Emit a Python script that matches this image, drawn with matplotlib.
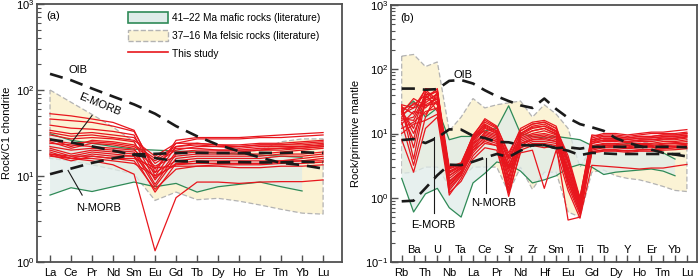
import matplotlib
matplotlib.use('Agg')
import matplotlib.pyplot as plt
from matplotlib.patches import Patch
from matplotlib.lines import Line2D
from matplotlib.ticker import LogLocator, NullFormatter
import matplotlib.transforms as mtransforms

plt.rcParams['font.family'] = ['Liberation Sans', 'DejaVu Sans']
plt.rcParams['mathtext.fontset'] = 'custom'
plt.rcParams['mathtext.rm'] = 'Liberation Sans'

# ---------------- Panel (a): chondrite-normalised REE ----------------
ree = ['La', 'Ce', 'Pr', 'Nd', 'Sm', 'Eu', 'Gd', 'Tb', 'Dy', 'Ho', 'Er', 'Tm', 'Yb', 'Lu']
oib_a = [154, 130, 104, 84, 68, 53, 38, 29, 23, 19.4, 16.4, 14.2, 13.4, 12.2]
emorb_a = [26.6, 24.5, 22.1, 19.7, 17.6, 16.2, 14.9, 14.7, 14.4, 14.5, 14.4, 14.4, 14.7, 14.4]
nmorb_a = [10.5, 12.2, 14.2, 16.0, 17.8, 18.1, 18.5, 18.6, 18.5, 18.5, 18.6, 18.5, 18.9, 18.5]
felsic_a_up = [100, 72, 52, 37, 25, 11, 17, 18, 18, 19, 20, 25, 27, 27]
felsic_a_lo = [16, 15, 13.5, 12, 10.5, 5.2, 6.5, 5.3, 5.5, 5.1, 4.6, 4.1, 3.7, 3.6]
mafic_a_up = [31, 26, 24, 22, 20.5, 20, 19.5, 19, 18.5, 18, 17.5, 17, 16.5]
mafic_a_lo = [6.0, 7.3, 6.6, 7.5, 8.5, 7.5, 8.2, 6.5, 7.5, 8.0, 8.5, 7.5, 6.7]
samples_a = [
    [53, 50, 46, 42, 34, 11, 26, 28, 28, 28, 29, 30, 31, 32],
    [46, 44, 42, 38, 33, 12, 24, 27, 27, 27, 28, 28, 29, 30],
    [39, 36, 35, 33, 30, 10, 22, 24, 23, 23, 24, 24, 25, 26],
    [34, 31, 32, 30, 28, 14, 20, 22, 22, 22, 23, 23, 24, 25],
    [30, 27, 28, 27, 25, 9, 19, 20, 20, 20, 21, 21, 22, 23],
    [27, 22, 26, 25, 23, 16, 22, 23, 22, 21, 22, 22, 22, 23],
    [25, 21, 24, 23, 21, 8, 18, 19, 19, 19, 20, 20, 21, 22],
    [24, 23, 22, 21, 20, 13, 17, 18, 18, 18, 18, 19, 20, 21],
    [22, 20, 21, 20, 19, 7.5, 16, 17, 17, 17, 17, 18, 18, 19],
    [21, 18, 20, 19, 18, 11, 15, 16, 16, 16, 16, 17, 17, 18],
    [20, 17, 19, 18, 17, 6.5, 14, 15, 15, 15, 15, 15, 16, 17],
    [19, 16, 18, 17, 17, 9.5, 14, 14, 14, 14, 14, 15, 15, 16],
    [18, 17, 17, 16, 16, 12.5, 13, 13, 13.5, 13.5, 13.5, 14, 14, 14.5],
    [17.5, 15, 17, 16, 15, 7, 12, 13, 13, 12.5, 12.5, 13, 13, 13.5],
    [17, 16, 16, 15, 14, 10, 13.5, 14, 14, 14, 14, 14.5, 15, 15],
    [18, 16, 15, 13.5, 10.5, 1.35, 5.6, 8.5, 8.5, 8.2, 8.5, 8.6, 8.6, 9.0],
    [26, 24, 25, 24, 22, 15, 21, 21, 20, 20, 20, 21, 21, 22],
    [32, 29, 30, 28, 26, 17, 24, 24, 23, 22, 23, 23, 23, 24],
]

# ---------------- Panel (b): primitive-mantle-normalised spider ----------------
spider = ['Rb', 'Ba', 'Th', 'U', 'Nb', 'Ta', 'La', 'Ce', 'Pr', 'Sr', 'Nd', 'Zr', 'Hf',
          'Sm', 'Eu', 'Ti', 'Gd', 'Tb', 'Dy', 'Y', 'Ho', 'Er', 'Tm', 'Yb', 'Lu']
oib_b = [50, 50, 48, 49, 66, 68, 60, 47, 38, 32, 27.4, 25, 35, 24, 17.5, 14, 12.5, 11,
         8.5, 7.2, 6.4, 5.6, 5.0, 4.7, 4.4]
emorb_b = [7.9, 8.2, 7.1, 8.6, 11.6, 11.5, 9.2, 8.5, 7.4, 7.3, 6.6, 6.5, 6.6, 5.9, 5.4,
           4.6, 5.0, 4.9, 4.8, 4.8, 4.8, 4.8, 4.8, 4.8, 4.8]
nmorb_b = [0.88, 0.90, 1.41, 2.24, 3.27, 3.22, 3.64, 4.2, 4.8, 4.3, 5.4, 6.6, 6.6, 5.9,
           6.1, 5.8, 6.2, 6.2, 6.2, 6.2, 6.2, 6.2, 6.2, 6.2, 6.1]
felsic_b_up = [160, 170, 110, 130, 11, 18, 35, 25, 28, 30, 32, 18, 28, 20, 12, 3.0,
               6.0, 7.0, 7.0, 6.5, 7.0, 7.5, 8.0, 8.5, 8.5]
felsic_b_lo = [2.4, 2.5, 3.0, 3.0, 1.5, 2.0, 3.0, 3.0, 3.0, 1.2, 3.0, 1.35, 2.5, 2.5,
               0.6, 0.5, 2.5, 2.7, 2.2, 2.0, 1.9, 1.7, 1.5, 1.3, 1.25]
mafic_b_up = [22, 32, 18, 25, 8, 9, 9, 11, 12, 27, 10, 9, 8.5, 9, 8.5, 8, 6.5, 6, 6.5,
              7, 7, 6.5, 5, 4]
mafic_b_lo = [2.0, 0.6, 1.15, 1.4, 0.7, 0.5, 1.7, 2.4, 3.6, 3.3, 2.6, 1.7, 1.9, 2.2,
              2.9, 3.3, 3.0, 2.3, 2.5, 2.6, 2.7, 2.8, 2.6, 2.2]
samples_b = [
    [26, 20, 50, 48, 3.0, 3.5, 9, 17, 13, 4.5, 12, 15, 16, 13, 3.5, 1.0, 9, 10, 10, 9.5, 10, 10.5, 10.5, 11, 11.5],
    [24, 28, 40, 45, 2.5, 3.2, 8.5, 15, 12, 3.5, 11, 14, 15, 12, 4.0, 0.9, 8.5, 9.5, 9.5, 9, 9.5, 10, 10, 10, 10.5],
    [22, 12, 45, 30, 2.2, 3.0, 8, 14, 11, 2.0, 10, 13, 14, 11, 3.0, 0.8, 8, 9, 9, 8.5, 9, 9, 9.5, 9.5, 10],
    [20, 25, 30, 42, 2.0, 2.8, 7.5, 13, 10.5, 3.0, 9.5, 12, 13, 10.5, 2.5, 0.75, 7.5, 8.5, 8.5, 8, 8.5, 8.5, 9, 9, 9.5],
    [27, 6, 35, 50, 1.8, 2.6, 7, 12, 10, 1.2, 9, 11, 12, 10, 2.2, 0.7, 7, 8, 8, 7.5, 8, 8, 8.5, 8.5, 9],
    [18, 30, 25, 38, 2.8, 3.3, 8.5, 11, 9.5, 4.0, 8.5, 10, 11, 9.5, 3.5, 0.85, 7, 7.5, 7.5, 7.2, 7.5, 7.5, 8, 8, 8.5],
    [16, 18, 38, 28, 1.5, 2.5, 6.5, 10.5, 9, 2.5, 8, 9.5, 10, 9, 1.8, 0.6, 6.5, 7, 7, 6.8, 7, 7, 7.5, 7.5, 8],
    [23, 10, 28, 35, 1.6, 2.4, 6, 10, 8.5, 1.8, 7.5, 9, 9.5, 8.5, 2.0, 0.65, 6.2, 6.8, 6.8, 6.5, 6.7, 6.8, 7, 7.2, 7.5],
    [14, 22, 20, 32, 2.2, 2.9, 7, 9.5, 8, 3.2, 7, 8.5, 9, 8, 2.8, 0.9, 6, 6.5, 6.5, 6.2, 6.5, 6.5, 6.8, 7, 7],
    [25, 4, 33, 40, 1.3, 2.2, 5.5, 9, 7.5, 1.4, 7, 8, 8.5, 7.5, 1.5, 0.55, 5.8, 6.2, 6.2, 6, 6.2, 6.3, 6.5, 6.6, 6.8],
    [12, 15, 22, 25, 1.8, 2.6, 6, 8.5, 7.5, 2.2, 6.5, 8, 8, 7.5, 2.4, 0.8, 5.5, 6, 6, 5.8, 6, 6, 6.2, 6.3, 6.5],
    [20, 8, 42, 22, 1.4, 2.3, 5, 8, 7, 1.6, 6, 7.5, 7.5, 7, 1.7, 0.6, 5.2, 5.6, 5.6, 5.4, 5.6, 5.6, 5.8, 6, 6.2],
    [15, 3.2, 18, 45, 1.1, 2.0, 4.5, 7, 6.5, 1.05, 5.5, 6.5, 6, 6.5, 0.45, 0.5, 5, 5.3, 5.3, 5.1, 5.3, 5.3, 5.5, 5.6, 5.8],
    [10, 14, 16, 20, 1.7, 2.5, 5.5, 7.5, 6.5, 2.8, 6, 7, 7, 6.5, 2.0, 0.7, 5.2, 5.5, 5.5, 5.3, 5.5, 5.6, 5.8, 6, 6],
    [28, 25, 48, 33, 2.6, 3.2, 9.5, 16, 12.5, 5.0, 11, 14, 15, 12, 4.5, 1.0, 9.5, 9, 9, 8.5, 9, 9, 9.5, 9.5, 10],
    [8, 2.5, 12, 18, 1.2, 1.8, 4, 6, 5.5, 1.2, 5, 5.5, 1.4, 5.5, 1.3, 0.48, 3.2, 3.1, 3, 2.9, 2.8, 2.9, 2.9, 3.1, 3.3],
    [17, 16, 36, 46, 2.4, 3.1, 8, 12.5, 10, 2.8, 9, 11, 12, 9.8, 2.6, 0.75, 7.5, 7.8, 7.8, 7.5, 7.8, 8, 8.2, 8.4, 8.8],
    [21, 35, 27, 30, 2.9, 3.4, 9, 13.5, 11, 4.2, 10, 12.5, 13, 11, 3.8, 0.95, 8, 8.4, 8.4, 8.1, 8.4, 8.6, 8.8, 9, 9.3],
]

legend_labels = ['41\u201322 Ma mafic rocks (literature)',
                 '37\u201316 Ma felsic rocks (literature)',
                 'This study']

# ---------------- styles ----------------
RED = '#e8161d'
GREEN = '#2f8a57'
TEAL_FILL = '#dfece9'
CREAM_FILL = '#fbf3d5'
GRAY_EDGE = '#b3b3b3'
SPINE = '#505050'
FS = 8
LFS = 7.3

fig = plt.figure(figsize=(7.0, 2.8), dpi=100)
ax1 = fig.add_axes([37 / 700, 18 / 280, 305 / 700, 258 / 280])
ax2 = fig.add_axes([391 / 700, 18 / 280, 306 / 700, 257 / 280])


def field(ax, up, lo, face, edge, ls, lw, z):
    n = len(up)
    xs = list(range(n)) + list(range(n))[::-1]
    ys = list(up) + list(lo)[::-1]
    ax.fill(xs, ys, facecolor=face, edgecolor='none', zorder=z)
    ax.fill(xs, ys, facecolor='none', edgecolor=edge, linestyle=ls, linewidth=lw, zorder=z + 0.1)


def style_axes(ax, ymin, ymax):
    ax.set_yscale('log')
    ax.set_ylim(ymin, ymax)
    for s in ax.spines.values():
        s.set_color(SPINE)
        s.set_linewidth(1.3)
    ax.yaxis.set_major_locator(LogLocator(base=10, numticks=10))
    ax.yaxis.set_minor_locator(LogLocator(base=10, subs=range(2, 10), numticks=10))
    ax.yaxis.set_minor_formatter(NullFormatter())
    ax.tick_params(axis='y', which='major', direction='in', length=5, width=1.0,
                   color=SPINE, labelsize=FS, pad=2)
    ax.tick_params(axis='y', which='minor', direction='in', length=3, width=0.8, color=SPINE)
    ax.tick_params(axis='x', which='major', direction='in', length=5, width=1.0,
                   color=SPINE, labelsize=FS, pad=4)
    ax.tick_params(axis='x', which='minor', bottom=False)


# ---- panel a ----
xa = list(range(len(ree)))
field(ax1, felsic_a_up, felsic_a_lo, CREAM_FILL, GRAY_EDGE, (0, (4, 2)), 0.9, 1)
n = len(mafic_a_up)
ax1.fill(list(range(n)) + list(range(n))[::-1], mafic_a_up + mafic_a_lo[::-1],
         facecolor=TEAL_FILL, alpha=0.75, edgecolor='none', zorder=1.5)
ax1.plot(range(n), mafic_a_up, color=GREEN, lw=0.9, zorder=2)
ax1.plot(range(n), mafic_a_lo, color=GREEN, lw=0.9, zorder=2)
for s in samples_a:
    ax1.plot(xa, s, color=RED, lw=0.9, zorder=3)
for ref in (oib_a, emorb_a, nmorb_a):
    ax1.plot(xa, ref, color='#1a1a1a', lw=1.9, dashes=(5, 3), zorder=4)
style_axes(ax1, 1, 1000)
ax1.set_xlim(-0.62, 13.9)
ax1.set_xticks(xa)
ax1.set_xticklabels(ree)
ax1.set_ylabel('Rock/C1 chondrite', fontsize=FS, labelpad=3)
ax1.text(0.03, 0.955, '(a)', transform=ax1.transAxes, fontsize=FS, va='center', ha='left')
ax1.text(1.35, 172, 'OIB', fontsize=FS, ha='center', va='center')
ax1.text(2.35, 68, 'E-MORB', fontsize=FS, ha='center', va='center', rotation=-22)
ax1.plot([2.0, 1.04], [50.5, 24.8], color='#1a1a1a', lw=0.8, zorder=5)
ax1.text(2.3, 4.2, 'N-MORB', fontsize=FS, ha='center', va='center')
ax1.plot([0.86, 1.53], [11.6, 6.0], color='#1a1a1a', lw=0.8, zorder=5)

handles = [Patch(facecolor=TEAL_FILL, edgecolor=GREEN, linewidth=1.2),
           Patch(facecolor=CREAM_FILL, edgecolor=GRAY_EDGE, linewidth=1.0, linestyle='--'),
           Line2D([0], [0], color=RED, lw=1.2)]
leg = ax1.legend(handles, legend_labels, loc='upper left', bbox_to_anchor=(0.272, 1.0),
                 frameon=False, fontsize=LFS, handlelength=3.95, handleheight=1.4,
                 handletextpad=0.4, labelspacing=0.62, borderpad=0.25)

# ---- panel b ----
xb = list(range(len(spider)))
field(ax2, felsic_b_up, felsic_b_lo, CREAM_FILL, GRAY_EDGE, (0, (4, 2)), 0.9, 1)
n = len(mafic_b_up)
ax2.fill(list(range(n)) + list(range(n))[::-1], mafic_b_up + mafic_b_lo[::-1],
         facecolor=TEAL_FILL, alpha=0.75, edgecolor='none', zorder=1.5)
ax2.plot(range(n), mafic_b_up, color=GREEN, lw=0.9, zorder=2)
ax2.plot(range(n), mafic_b_lo, color=GREEN, lw=0.9, zorder=2)
for s in samples_b:
    ax2.plot(xb, s, color=RED, lw=0.9, zorder=3)
for ref in (oib_b, emorb_b, nmorb_b):
    ax2.plot(xb, ref, color='#1a1a1a', lw=1.9, dashes=(5, 3), zorder=4)
style_axes(ax2, 0.1, 1000)
ax2.set_xlim(-0.9, 24.85)
ax2.set_xticks(xb)
ax2.set_xticklabels([lab if i % 2 == 0 else '' for i, lab in enumerate(spider)])
trans = mtransforms.blended_transform_factory(ax2.transData, ax2.transAxes)
for i, lab in enumerate(spider):
    if i % 2 == 1:
        ax2.text(i, 0.047, lab, transform=trans, fontsize=FS, ha='center', va='center')
ax2.set_ylabel('Rock/primitive mantle', fontsize=FS, labelpad=3)
ax2.text(0.03, 0.95, '(b)', transform=ax2.transAxes, fontsize=FS, va='center', ha='left')
ax2.text(5.2, 80, 'OIB', fontsize=FS, ha='center', va='center')
ax2.text(2.65, 0.38, 'E-MORB', fontsize=FS, ha='center', va='center')
ax2.plot([2.7, 2.7], [0.58, 8.7], color='#1a1a1a', lw=0.8, zorder=5)
ax2.text(7.7, 0.84, 'N-MORB', fontsize=FS, ha='center', va='center')
ax2.plot([7.08, 7.08], [1.2, 4.2], color='#1a1a1a', lw=0.8, zorder=5)

fig.savefig('out.png', dpi=100)
